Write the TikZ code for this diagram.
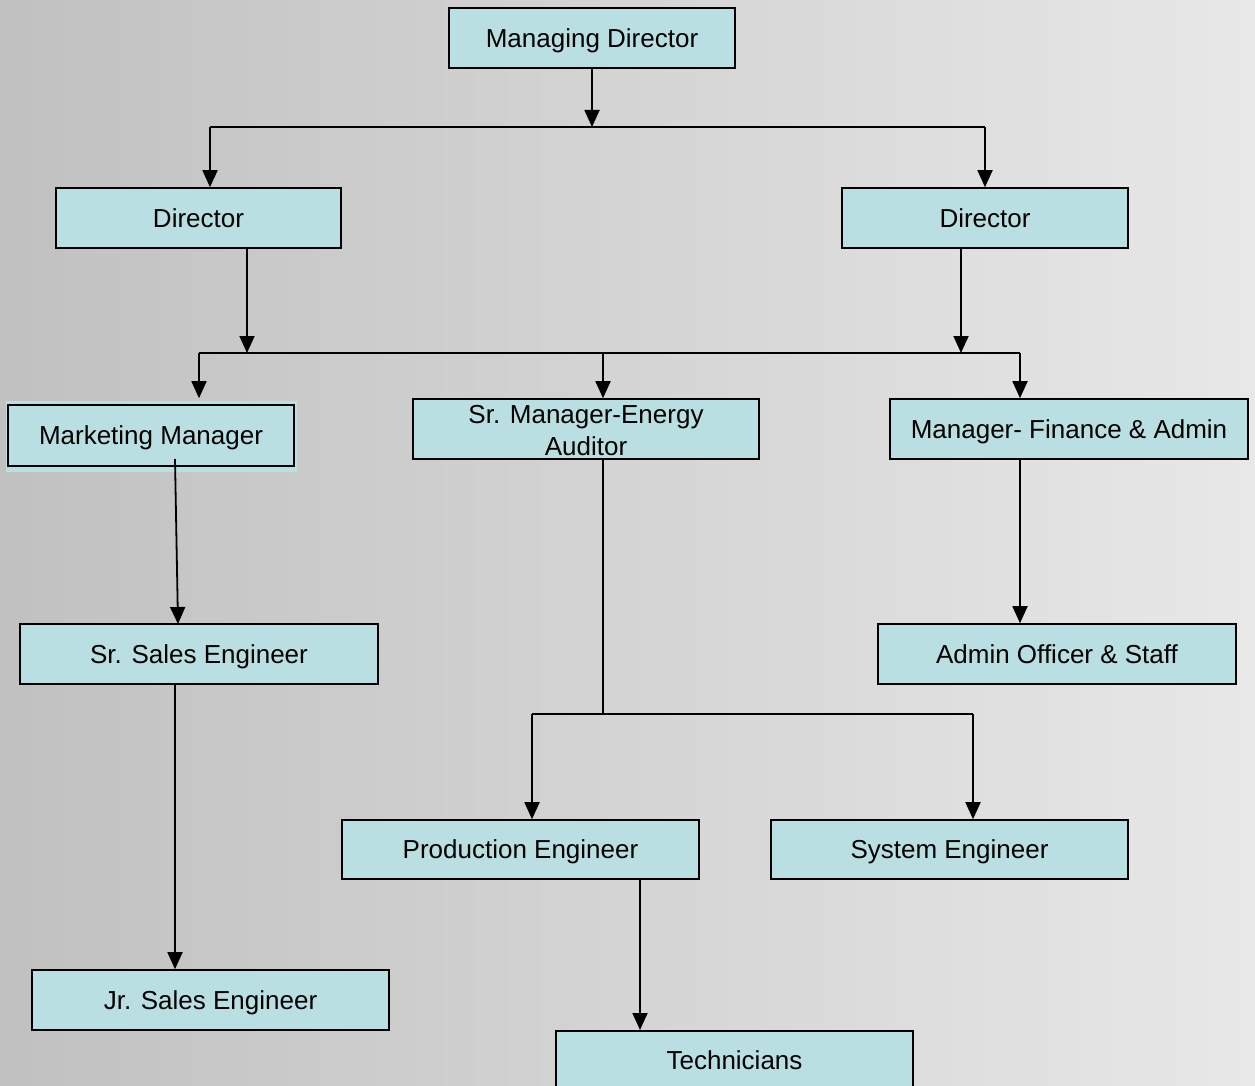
\documentclass[tikz,border=0pt]{standalone}
\usepackage{fontspec}
\setmainfont{Liberation Sans}
\usetikzlibrary{arrows.meta}
\definecolor{boxfill}{HTML}{BADFE2}
\begin{document}
\begin{tikzpicture}[x=1pt,y=-1pt,
  box/.style={draw=black,line width=1.6pt,fill=boxfill,inner sep=0pt,
    minimum width=357pt,minimum height=60pt,align=center,
    text depth=0pt,font=\fontsize{26}{32}\selectfont},
  conn/.style={line width=1.8pt},
  arr/.style={conn,-{Triangle[width=15pt,length=17pt]}}]
\useasboundingbox (0,0) rectangle (1255,1086);
\shade[left color=gray!49,right color=gray!18] (0,0) rectangle (1255,1086);

% boxes
\node[box,minimum width=286pt] (md) at (592,38) {Managing Director};
\node[box,minimum width=285pt] (dl) at (198.5,218) {Director};
\node[box,minimum width=286pt] (dr) at (985,218) {Director};
\fill[boxfill] (6,401) rectangle (297,472);
\node[box,minimum width=286pt,minimum height=61pt] (mm) at (151,435.5) {Marketing Manager};
\node[box,minimum width=346pt] (sm) at (586,429) {};
\node[font=\fontsize{26}{32}\selectfont,align=center,inner sep=0pt] (smt) at (586,431) {Sr. Manager-Energy\\Auditor};
\node[box,minimum width=358pt] (mf) at (1069,429) {Manager- Finance \& Admin};
\node[box,minimum width=358pt] (sse) at (199,654) {Sr. Sales Engineer};
\node[box,minimum width=358pt] (ao) at (1057,654) {Admin Officer \& Staff};
\node[box,minimum width=357pt,minimum height=59pt] (pe) at (520.5,849.5) {Production Engineer};
\node[box,minimum width=357pt,minimum height=59pt] (se) at (949.5,849.5) {System Engineer};
\node[box,minimum width=357pt] (jse) at (210.5,1000) {Jr. Sales Engineer};
\node[box,minimum width=357pt,minimum height=60pt,anchor=north] (tech) at (734.5,1030) {};
\node[font=\fontsize{26}{32}\selectfont,inner sep=0pt,text depth=0pt] (techt) at (734.5,1060) {Technicians};

% junction coordinates
\coordinate (j1) at (592,127);
\coordinate (j1l) at (210,127);
\coordinate (j1r) at (985,127);
\coordinate (j2l) at (247,353);
\coordinate (j2r) at (961,353);
\coordinate (b2l) at (199,353);
\coordinate (b2m) at (603,353);
\coordinate (b2r) at (1020,353);
\coordinate (mmout) at (175,459);
\coordinate (sseIn) at (178,624);
\coordinate (j3) at (603,714);
\coordinate (j3l) at (532,714);
\coordinate (j3r) at (973,714);

% connectors
\draw[arr] (md.south) -- (j1);
\draw[conn] (j1l) -- (j1r);
\draw[arr] (j1l) -- (j1l |- dl.north);
\draw[arr] (j1r) -- (j1r |- dr.north);

\draw[arr] (j2l |- dl.south) -- (j2l);
\draw[arr] (j2r |- dr.south) -- (j2r);
\draw[conn] (b2l) -- (b2r);
\draw[arr] (b2l) -- ([yshift=6pt]b2l |- mm.north);
\draw[arr] (b2m) -- (b2m |- sm.north);
\draw[arr] (b2r) -- (b2r |- mf.north);

\draw[arr] (mmout) -- (sseIn);
\draw[arr] (b2r |- mf.south) -- (b2r |- ao.north);
\draw[arr] (mmout |- sse.south) -- (mmout |- jse.north);

\draw[conn] (j3 |- sm.south) -- (j3);
\draw[conn] (j3l) -- (j3r);
\draw[arr] (j3l) -- (j3l |- pe.north);
\draw[arr] (j3r) -- (j3r |- se.north);
\draw[arr] (640,879 |- pe.south) -- (640,0 |- tech.north);
\end{tikzpicture}
\end{document}
